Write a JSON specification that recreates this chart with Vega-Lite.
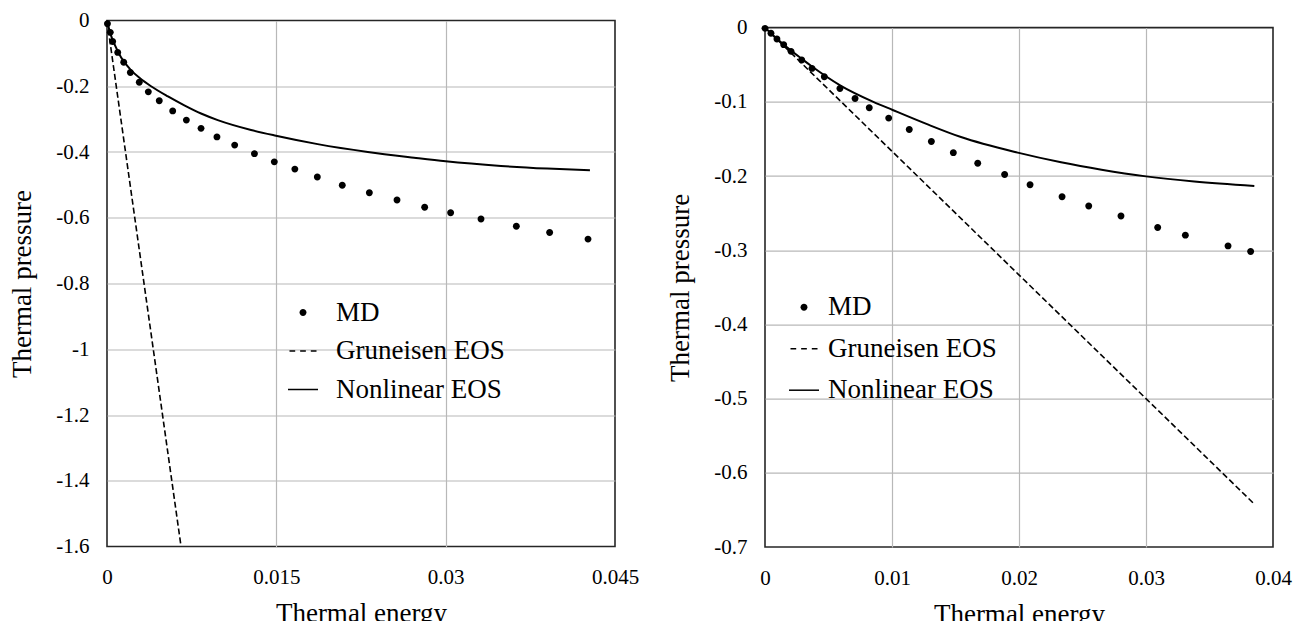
{
  "$schema": "https://vega.github.io/schema/vega-lite/v6.json",
  "background": "white",
  "padding": {"left": 7, "top": 8.5, "right": 0, "bottom": 0},
  "spacing": 25,
  "bounds": "full",
  "config": {
    "font": "Liberation Serif",
    "view": {"stroke": "#262626", "strokeWidth": 1.6},
    "style": {
      "guide-label": {"font": "Liberation Serif", "fill": "#000"},
      "guide-title": {"font": "Liberation Serif", "fill": "#000"}
    },
    "axis": {
      "labelFont": "Liberation Serif", "labelFontSize": 21, "labelColor": "#000",
      "titleFont": "Liberation Serif", "titleFontSize": 27, "titleFontWeight": "normal", "titleColor": "#000",
      "domain": false, "ticks": false, "gridColor": "#b8b8b8", "gridWidth": 1.2, "gridOpacity": 1,
      "labelFlush": false, "labelOverlap": false
    },
    "legend": {
      "labelFont": "Liberation Serif", "labelFontSize": 27, "labelColor": "#000", "labelLimit": 400,
      "symbolSize": 900, "symbolStrokeWidth": 0, "symbolFillColor": "#000",
      "labelOffset": 10, "padding": 0, "titlePadding": 0
    }
  },
  "datasets": {
    "left": [
      {"E": 0.00004, "P": -0.01, "s": "MD"},
      {"E": 0.00029, "P": -0.036, "s": "MD"},
      {"E": 0.0005, "P": -0.064, "s": "MD"},
      {"E": 0.00095, "P": -0.097, "s": "MD"},
      {"E": 0.00148, "P": -0.127, "s": "MD"},
      {"E": 0.00207, "P": -0.158, "s": "MD"},
      {"E": 0.00286, "P": -0.188, "s": "MD"},
      {"E": 0.00366, "P": -0.217, "s": "MD"},
      {"E": 0.00463, "P": -0.244, "s": "MD"},
      {"E": 0.00582, "P": -0.275, "s": "MD"},
      {"E": 0.00703, "P": -0.303, "s": "MD"},
      {"E": 0.00833, "P": -0.328, "s": "MD"},
      {"E": 0.00974, "P": -0.354, "s": "MD"},
      {"E": 0.01131, "P": -0.379, "s": "MD"},
      {"E": 0.01306, "P": -0.405, "s": "MD"},
      {"E": 0.01482, "P": -0.43, "s": "MD"},
      {"E": 0.01664, "P": -0.452, "s": "MD"},
      {"E": 0.01863, "P": -0.476, "s": "MD"},
      {"E": 0.02084, "P": -0.501, "s": "MD"},
      {"E": 0.02324, "P": -0.524, "s": "MD"},
      {"E": 0.02569, "P": -0.546, "s": "MD"},
      {"E": 0.02814, "P": -0.568, "s": "MD"},
      {"E": 0.03044, "P": -0.585, "s": "MD"},
      {"E": 0.03313, "P": -0.604, "s": "MD"},
      {"E": 0.03626, "P": -0.626, "s": "MD"},
      {"E": 0.03921, "P": -0.645, "s": "MD"},
      {"E": 0.04261, "P": -0.665, "s": "MD"},
      {"E": 0, "P": 0, "s": "Gruneisen EOS"},
      {"E": 0.00656, "P": -1.6, "s": "Gruneisen EOS"},
      {"E": 0, "P": 0, "s": "Nonlinear EOS"},
      {"E": 0.0003, "P": -0.04, "s": "Nonlinear EOS"},
      {"E": 0.0007, "P": -0.075, "s": "Nonlinear EOS"},
      {"E": 0.00124, "P": -0.112, "s": "Nonlinear EOS"},
      {"E": 0.0021, "P": -0.15, "s": "Nonlinear EOS"},
      {"E": 0.0029, "P": -0.175, "s": "Nonlinear EOS"},
      {"E": 0.0039, "P": -0.2, "s": "Nonlinear EOS"},
      {"E": 0.0054, "P": -0.231, "s": "Nonlinear EOS"},
      {"E": 0.00685, "P": -0.258, "s": "Nonlinear EOS"},
      {"E": 0.00833, "P": -0.283, "s": "Nonlinear EOS"},
      {"E": 0.00981, "P": -0.303, "s": "Nonlinear EOS"},
      {"E": 0.01276, "P": -0.333, "s": "Nonlinear EOS"},
      {"E": 0.01497, "P": -0.3505, "s": "Nonlinear EOS"},
      {"E": 0.01866, "P": -0.376, "s": "Nonlinear EOS"},
      {"E": 0.0231, "P": -0.4, "s": "Nonlinear EOS"},
      {"E": 0.0272, "P": -0.4175, "s": "Nonlinear EOS"},
      {"E": 0.03, "P": -0.4285, "s": "Nonlinear EOS"},
      {"E": 0.0349, "P": -0.4425, "s": "Nonlinear EOS"},
      {"E": 0.039, "P": -0.4505, "s": "Nonlinear EOS"},
      {"E": 0.04278, "P": -0.4557, "s": "Nonlinear EOS"}
    ],
    "right": [
      {"E": 0, "P": -0.001, "s": "MD"},
      {"E": 0.00047, "P": -0.0077, "s": "MD"},
      {"E": 0.00094, "P": -0.0153, "s": "MD"},
      {"E": 0.00147, "P": -0.023, "s": "MD"},
      {"E": 0.00205, "P": -0.032, "s": "MD"},
      {"E": 0.00289, "P": -0.0437, "s": "MD"},
      {"E": 0.0037, "P": -0.055, "s": "MD"},
      {"E": 0.00467, "P": -0.0662, "s": "MD"},
      {"E": 0.0059, "P": -0.082, "s": "MD"},
      {"E": 0.00709, "P": -0.0955, "s": "MD"},
      {"E": 0.00821, "P": -0.108, "s": "MD"},
      {"E": 0.00974, "P": -0.122, "s": "MD"},
      {"E": 0.01136, "P": -0.1374, "s": "MD"},
      {"E": 0.0131, "P": -0.1536, "s": "MD"},
      {"E": 0.01483, "P": -0.1685, "s": "MD"},
      {"E": 0.01675, "P": -0.1829, "s": "MD"},
      {"E": 0.01887, "P": -0.198, "s": "MD"},
      {"E": 0.02087, "P": -0.2117, "s": "MD"},
      {"E": 0.02339, "P": -0.228, "s": "MD"},
      {"E": 0.02549, "P": -0.2405, "s": "MD"},
      {"E": 0.02803, "P": -0.254, "s": "MD"},
      {"E": 0.03092, "P": -0.2694, "s": "MD"},
      {"E": 0.0331, "P": -0.2797, "s": "MD"},
      {"E": 0.03646, "P": -0.2942, "s": "MD"},
      {"E": 0.03824, "P": -0.3018, "s": "MD"},
      {"E": 0, "P": 0, "s": "Gruneisen EOS"},
      {"E": 0.0385, "P": -0.6417, "s": "Gruneisen EOS"},
      {"E": 0, "P": 0, "s": "Nonlinear EOS"},
      {"E": 0.00094, "P": -0.015, "s": "Nonlinear EOS"},
      {"E": 0.00205, "P": -0.031, "s": "Nonlinear EOS"},
      {"E": 0.00289, "P": -0.042, "s": "Nonlinear EOS"},
      {"E": 0.00362, "P": -0.0514, "s": "Nonlinear EOS"},
      {"E": 0.00598, "P": -0.0784, "s": "Nonlinear EOS"},
      {"E": 0.00853, "P": -0.1, "s": "Nonlinear EOS"},
      {"E": 0.01005, "P": -0.111, "s": "Nonlinear EOS"},
      {"E": 0.01281, "P": -0.1305, "s": "Nonlinear EOS"},
      {"E": 0.01543, "P": -0.1475, "s": "Nonlinear EOS"},
      {"E": 0.0199, "P": -0.1685, "s": "Nonlinear EOS"},
      {"E": 0.02331, "P": -0.1815, "s": "Nonlinear EOS"},
      {"E": 0.0265, "P": -0.1915, "s": "Nonlinear EOS"},
      {"E": 0.03, "P": -0.2005, "s": "Nonlinear EOS"},
      {"E": 0.0338, "P": -0.2075, "s": "Nonlinear EOS"},
      {"E": 0.03853, "P": -0.2135, "s": "Nonlinear EOS"}
    ]
  },
  "resolve": {"scale": {"shape": "independent", "x": "independent", "y": "independent"}, "legend": {"shape": "independent"}},
  "hconcat": [
    {
      "width": 508,
      "height": 526,
      "data": {"name": "left"},
      "encoding": {
        "x": {"field": "E", "type": "quantitative",
          "scale": {"domain": [0, 0.045], "nice": false, "zero": false},
          "axis": {"values": [0, 0.015, 0.03, 0.045], "labelExpr": "'' + datum.value", "title": "Thermal energy",
            "labelFont": "Liberation Serif", "titleFont": "Liberation Serif", "labelFontSize": 21, "titleFontSize": 27,
            "labelPadding": 20, "titlePadding": 13,
            "gridOpacity": {"condition": {"test": "datum.value === 0 || datum.value === 0.045", "value": 0}, "value": 1}}},
        "y": {"field": "P", "type": "quantitative",
          "scale": {"domain": [-1.6, 0], "nice": false, "zero": false},
          "axis": {"values": [0, -0.2, -0.4, -0.6, -0.8, -1, -1.2, -1.4, -1.6], "labelExpr": "'' + datum.value", "title": "Thermal pressure",
            "labelFont": "Liberation Serif", "titleFont": "Liberation Serif", "labelFontSize": 21, "titleFontSize": 27,
            "labelPadding": 18, "titlePadding": 19,
            "gridOpacity": {"condition": {"test": "datum.value === 0 || datum.value === -1.6", "value": 0}, "value": 1}}}
      },
      "layer": [
        {
          "transform": [{"filter": "datum.s === 'Gruneisen EOS'"}],
          "mark": {"type": "line", "color": "#000", "strokeWidth": 1.6, "strokeDash": [6, 3], "clip": true}
        },
        {
          "transform": [{"filter": "datum.s === 'Nonlinear EOS'"}],
          "mark": {"type": "line", "color": "#000", "strokeWidth": 2, "interpolate": "monotone"}
        },
        {
          "transform": [{"filter": "datum.s === 'MD'"}],
          "mark": {"type": "point", "filled": true, "color": "#000", "opacity": 1, "size": 900, "strokeWidth": 0},
          "encoding": {
            "shape": {"field": "s", "type": "nominal",
              "scale": {"domain": ["MD", "Gruneisen EOS", "Nonlinear EOS"],
                "range": ["M-0.23,0A0.23,0.23,0,1,1,0.23,0A0.23,0.23,0,1,1,-0.23,0Z", "M-0.9,-0.05H-0.52V0.05H-0.9ZM-0.19,-0.05H0.19V0.05H-0.19ZM0.52,-0.05H0.9V0.05H0.52Z", "M-1,-0.05H1V0.05H-1Z"]},
              "legend": {"title": null, "orient": "none", "legendX": 181, "legendY": 277, "rowPadding": 10.5, "labelOffset": 18,
                "encode": {"symbols": {"update": {"fill": {"value": "#000"}, "opacity": {"value": 1}, "strokeWidth": {"value": 0}}}}}}
          }
        }
      ]
    },
    {
      "spacing": -5.9,
      "bounds": "full",
      "vconcat": [
        {
          "width": 10,
          "height": 1,
          "view": {"stroke": null, "fill": null},
          "data": {"values": []},
          "mark": {"type": "point", "opacity": 0, "size": 0, "strokeWidth": 0}
        },
        {
          "width": 508,
          "height": 519.4,
          "data": {"name": "right"},
          "encoding": {
            "x": {"field": "E", "type": "quantitative",
              "scale": {"domain": [0, 0.04], "nice": false, "zero": false},
              "axis": {"values": [0, 0.01, 0.02, 0.03, 0.04], "labelExpr": "'' + datum.value", "title": "Thermal energy",
                "labelFont": "Liberation Serif", "titleFont": "Liberation Serif", "labelFontSize": 21, "titleFontSize": 27,
                "labelPadding": 20, "titlePadding": 13,
                "gridOpacity": {"condition": {"test": "datum.value === 0 || datum.value === 0.04", "value": 0}, "value": 1}}},
            "y": {"field": "P", "type": "quantitative",
              "scale": {"domain": [-0.7, 0], "nice": false, "zero": false},
              "axis": {"values": [0, -0.1, -0.2, -0.3, -0.4, -0.5, -0.6, -0.7], "labelExpr": "'' + datum.value", "title": "Thermal pressure",
                "labelFont": "Liberation Serif", "titleFont": "Liberation Serif", "labelFontSize": 21, "titleFontSize": 27,
                "labelPadding": 18, "titlePadding": 19,
                "gridOpacity": {"condition": {"test": "datum.value === 0 || datum.value === -0.7", "value": 0}, "value": 1}}}
          },
          "layer": [
            {
              "transform": [{"filter": "datum.s === 'Gruneisen EOS'"}],
              "mark": {"type": "line", "color": "#000", "strokeWidth": 1.6, "strokeDash": [6, 3], "clip": true}
            },
            {
              "transform": [{"filter": "datum.s === 'Nonlinear EOS'"}],
              "mark": {"type": "line", "color": "#000", "strokeWidth": 2, "interpolate": "monotone"}
            },
            {
              "transform": [{"filter": "datum.s === 'MD'"}],
              "mark": {"type": "point", "filled": true, "color": "#000", "opacity": 1, "size": 900, "strokeWidth": 0},
              "encoding": {
                "shape": {"field": "s", "type": "nominal",
                  "scale": {"domain": ["MD", "Gruneisen EOS", "Nonlinear EOS"],
                    "range": ["M-0.23,0A0.23,0.23,0,1,1,0.23,0A0.23,0.23,0,1,1,-0.23,0Z", "M-0.9,-0.05H-0.52V0.05H-0.9ZM-0.19,-0.05H0.19V0.05H-0.19ZM0.52,-0.05H0.9V0.05H0.52Z", "M-1,-0.05H1V0.05H-1Z"]},
                  "legend": {"title": null, "orient": "none", "legendX": 24, "legendY": 271.7, "rowPadding": 13.5, "labelOffset": 9,
                    "encode": {"symbols": {"update": {"fill": {"value": "#000"}, "opacity": {"value": 1}, "strokeWidth": {"value": 0}}}}}}
              }
            }
          ]
        }
      ]
    }
  ]
}
